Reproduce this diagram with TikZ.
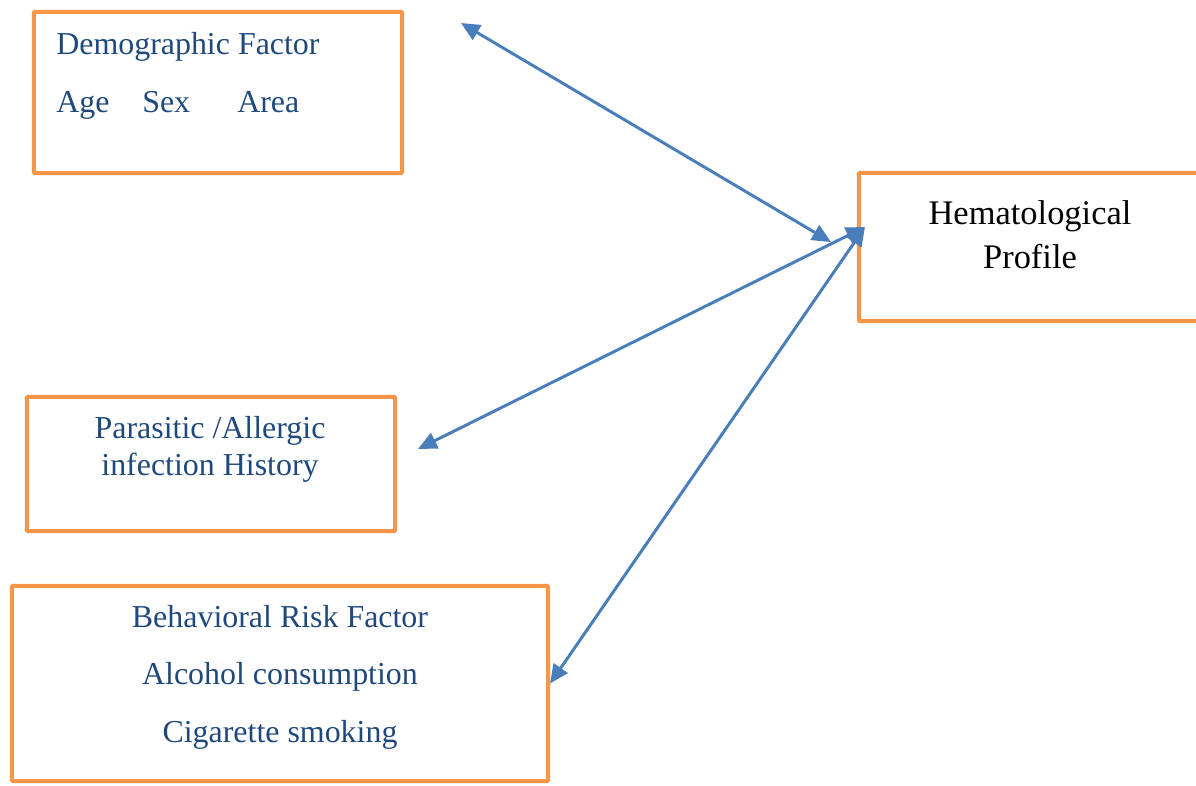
\documentclass[tikz,border=0pt]{standalone}
\usepackage{fontspec}
\setmainfont{Liberation Serif}
\usepackage{tikz}
\usetikzlibrary{arrows.meta}
\usetikzlibrary{calc}

\definecolor{boxorange}{HTML}{F79646}
\definecolor{linkblue}{HTML}{4A7EBB}
\definecolor{textblue}{HTML}{1F497D}

\tikzset{
	factorbox/.style={draw=boxorange, line width=2.85pt, rounded corners=0.6pt, inner sep=0pt},
	factortext/.style={text=textblue, font=\fontsize{22.7}{31}\selectfont, inner sep=0pt},
	profiletext/.style={text=black, font=\fontsize{24.5}{31}\selectfont, inner sep=0pt},
	linkarrow/.style={draw=linkblue, line width=2.1pt,
		{Triangle[length=0.47cm,width=0.42cm]}-{Triangle[length=0.47cm,width=0.42cm]}}
}

\begin{document}
\begin{tikzpicture}[x=0.025cm,y=-0.025cm]
\useasboundingbox (0,0) rectangle (1196,785);
\clip (0,0) rectangle (1196,785);

% boxes
\node[factorbox, minimum width=9.2cm, minimum height=4.025cm] (demo) at (218,92.5) {};
\node[factorbox, minimum width=8.775cm, minimum height=3.7cm] (hema) at (1034.5,247) {};
\node[factorbox, minimum width=9.2cm, minimum height=3.35cm] (para) at (211,464) {};
\node[factorbox, minimum width=13.4cm, minimum height=4.875cm] (behav) at (280,683.5) {};

% texts
\node[factortext, anchor=base west] (demotitle) at (56,54) {Demographic Factor};
\node[factortext, anchor=base west] (demoage) at (56,112) {Age};
\node[factortext, anchor=base west] (demosex) at (142,112) {Sex};
\node[factortext, anchor=base west] (demoarea) at (237,112) {Area};

\node[profiletext, anchor=base] (hemaone) at (1030,224) {Hematological};
\node[profiletext, anchor=base] (hematwo) at (1030,268) {Profile};

\node[factortext, anchor=base] (paraone) at (210,438) {Parasitic /Allergic};
\node[factortext, anchor=base] (paratwo) at (210,475) {infection History};

\node[factortext, anchor=base] (behavone) at (280,627) {Behavioral Risk Factor};
\node[factortext, anchor=base] (behavtwo) at (280,684) {Alcohol consumption};
\node[factortext, anchor=base] (behavthree) at (280,742) {Cigarette smoking};

% connectors
\coordinate (demotip) at (461,23);
\coordinate (hemaside) at ($(hema.west)+(-26,-5)$);
\coordinate (hemain) at ($(hema.west)+(8,-20)$);
\coordinate (paratip) at (418,449);

\draw[linkarrow] (demotip) -- (hemaside);
\draw[linkarrow] (paratip) -- (hemain);
\draw[linkarrow] (behav.east) -- (hemain);
\end{tikzpicture}
\end{document}
